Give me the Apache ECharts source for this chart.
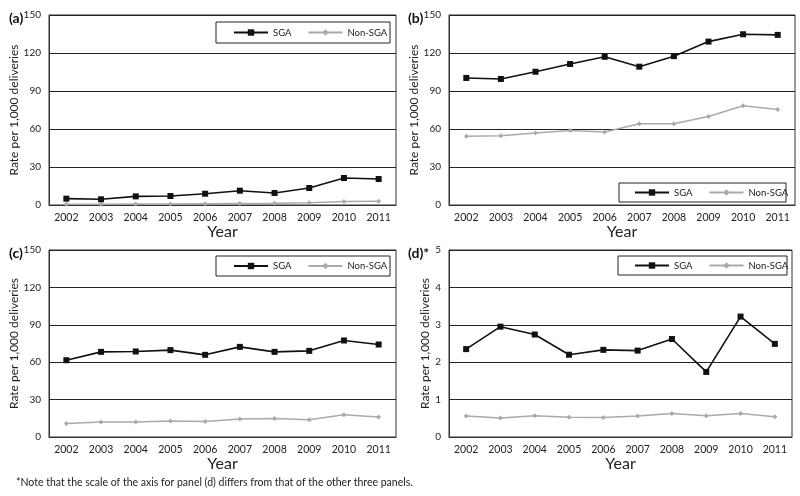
<!DOCTYPE html>
<html><head><meta charset="utf-8">
<script src="https://cdn.jsdelivr.net/npm/echarts@6/dist/echarts.min.js"></script>
<style>html,body{margin:0;padding:0;background:#fff}#c{width:800px;height:496px}</style>
</head><body><div id="c"></div>
<script>
const years = ['2002','2003','2004','2005','2006','2007','2008','2009','2010','2011'];
const panelLabels = ['(a)','(b)','(c)','(d)*'];
const sgaA = [5.0,4.5,6.8,7.1,8.9,11.3,9.5,13.4,21.3,20.5];
const nonA = [0.5,0.6,0.7,0.8,1.0,1.1,1.3,1.8,2.8,2.9];
const sgaB = [100.3,99.5,105.2,111.3,117.0,109.2,117.5,129.0,134.8,134.3];
const nonB = [54.2,54.7,56.8,58.9,57.6,64.1,64.1,69.9,78.3,75.4];
const sgaC = [61.6,68.3,68.6,69.7,65.9,72.3,68.3,69.1,77.4,74.2];
const nonC = [10.9,12.0,12.0,12.8,12.5,14.4,14.9,13.9,17.9,16.0];
const sgaD = [2.35,2.95,2.74,2.20,2.33,2.31,2.62,1.74,3.22,2.49];
const nonD = [0.56,0.51,0.57,0.53,0.52,0.56,0.63,0.57,0.63,0.54];
const yMax = [150,150,150,5];
const yStep = [30,30,30,1];
const footnote = '*Note that the scale of the axis for panel (d) differs from that of the other three panels.';
const seriesNames = ['SGA','Non-SGA'];

const FONT = 'Lato, "Open Sans", sans-serif';
const grids = [
  {left:49, top:15, width:347, height:190},
  {left:449, top:15, width:346, height:190},
  {left:49, top:250, width:347, height:187},
  {left:449, top:250, width:343, height:187}
];
const legendBoxes = [
  {x:216,y:22,w:174,h:21, lx:233},
  {x:619,y:183,w:167,h:19, lx:634},
  {x:216,y:256,w:174,h:20, lx:233},
  {x:618,y:256,w:169,h:19, lx:634}
];
const data = [[sgaA,nonA],[sgaB,nonB],[sgaC,nonC],[sgaD,nonD]];

const option = {
  backgroundColor:'#fff',
  animation:false,
  textStyle:{fontFamily:FONT},
  grid: grids.map(g=>Object.assign({show:true,borderColor:'#333',borderWidth:1,containLabel:false},g)),
  xAxis: grids.map((g,i)=>({
    gridIndex:i, type:'category', data:years, boundaryGap:true,
    name:'Year', nameLocation:'middle', nameGap:18,
    nameTextStyle:{fontSize:16,color:'#222',fontFamily:FONT},
    axisLine:{lineStyle:{color:'#333'}}, axisTick:{show:false},
    axisLabel:{fontSize:10.5,color:'#222',margin:7,fontFamily:FONT}
  })),
  yAxis: grids.map((g,i)=>({
    gridIndex:i, type:'value', min:0, max:yMax[i], interval:yStep[i],
    name:'Rate per 1,000 deliveries', nameLocation:'middle', nameGap:14,
    nameTextStyle:{fontSize:12,color:'#222',fontFamily:FONT},
    axisLine:{show:true,lineStyle:{color:'#333'}}, axisTick:{show:false},
    splitLine:{lineStyle:{color:'#222',width:1}},
    axisLabel:{fontSize:10,color:'#222',margin:8,fontFamily:FONT}
  })),
  title: grids.map((g,i)=>({
    text:panelLabels[i], left:(i%2===0)?4:403, top:g.top-9,
    textStyle:{fontSize:14,fontWeight:'bold',color:'#111',fontFamily:FONT}
  })),
  legend: legendBoxes.map((b,i)=>({
    data:seriesNames, left:b.lx, top:b.y+b.h/2-5, itemWidth:34, itemHeight:8, itemGap:16,
    padding:0, textStyle:{fontSize:9.5,color:'#222',fontFamily:FONT}
  })),
  series: [],
  graphic: [
    ...legendBoxes.map(b=>({type:'rect',shape:{x:b.x,y:b.y,width:b.w,height:b.h},style:{fill:'none',stroke:'#222',lineWidth:1},z:0,silent:true})),
    {type:'text', left:16, top:477, style:{text:footnote, fontSize:10.5, fill:'#222', fontFamily:FONT}}
  ]
};
data.forEach((pair,i)=>{
  option.series.push({name:'SGA',type:'line',xAxisIndex:i,yAxisIndex:i,data:pair[0],
    symbol:'rect',symbolSize:6,lineStyle:{color:'#111',width:1.6},itemStyle:{color:'#111'},z:3});
  option.series.push({name:'Non-SGA',type:'line',xAxisIndex:i,yAxisIndex:i,data:pair[1],
    symbol:'diamond',symbolSize:5,lineStyle:{color:'#aaa',width:1.5},itemStyle:{color:'#aaa'},z:2});
});
const chart = echarts.init(document.getElementById('c'),null,{renderer:'canvas'});
chart.setOption(option);
</script></body></html>
